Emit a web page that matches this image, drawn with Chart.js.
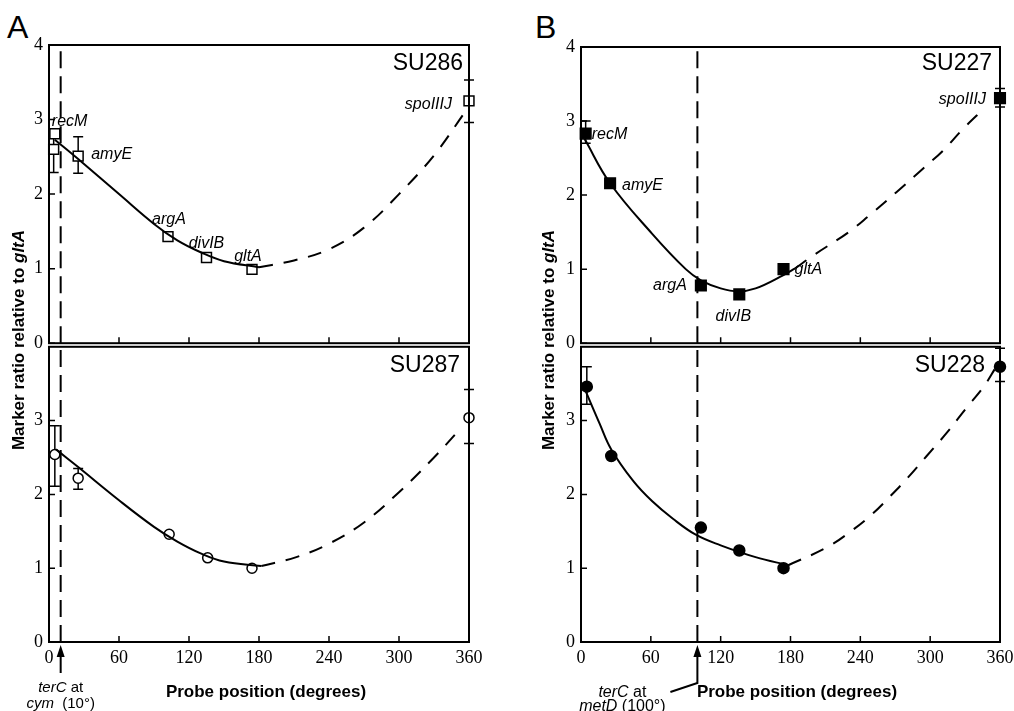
<!DOCTYPE html>
<html>
<head>
<meta charset="utf-8">
<title>Marker ratio vs probe position</title>
<script src="https://cdn.jsdelivr.net/npm/chart.js@4.4.1/dist/chart.umd.min.js"></script>
<style>
  body { margin: 0; background: #fff; }
  #fig { position: relative; width: 1014px; height: 711px; overflow: hidden; font-family: "Liberation Sans", Arial, sans-serif; color: #000; }
  #fig canvas { position: absolute; }
  .letter { position: absolute; font-size: 32px; line-height: 32px; }
  .ytitle { position: absolute; width: 320px; height: 20px; line-height: 20px; text-align: center; font-weight: bold; font-size: 17px; transform: rotate(-90deg); }
  .xtitle { position: absolute; width: 300px; height: 20px; line-height: 20px; text-align: center; font-weight: bold; font-size: 17px; }
</style>
</head>
<body>
<div id="fig">
  <div class="letter" style="left:7px;top:11px">A</div>
  <div class="letter" style="left:535px;top:11px">B</div>
  <canvas id="a1" width="490" height="360" style="left:0;top:0"></canvas>
  <canvas id="a2" width="490" height="381" style="left:0;top:330px"></canvas>
  <canvas id="b1" width="500" height="360" style="left:520px;top:0"></canvas>
  <canvas id="b2" width="500" height="381" style="left:520px;top:330px"></canvas>
  <div class="ytitle" style="left:-141px;top:330px">Marker ratio relative to <i>gltA</i></div>
  <div class="ytitle" style="left:389px;top:330px">Marker ratio relative to <i>gltA</i></div>
  <div class="xtitle" style="left:116px;top:682px">Probe position (degrees)</div>
  <div class="xtitle" style="left:647px;top:682px">Probe position (degrees)</div>
</div>
<script>
// tick labels
const xTicks = [0, 60, 120, 180, 240, 300, 360];
const yTicksUpper = [0, 1, 2, 3, 4];
const yTicksLower = [0, 1, 2, 3];

// A, SU286 (open squares)
const su286Pos = [4, 5, 25, 102, 135, 174, 360];
const su286Ratio = [2.60, 2.81, 2.51, 1.43, 1.15, 0.99, 3.25];
const su286Low = [2.29, null, 2.28, null, null, null, 2.96];
const su286High = [2.86, null, 2.77, null, null, null, 3.53];
const su286Genes = ['', 'recM', 'amyE', 'argA', 'divIB', 'gltA', 'spoIIIJ'];
const su286FitX = [5, 25, 60, 90, 110, 130, 150, 180];
const su286FitY = [2.73, 2.47, 2.00, 1.60, 1.38, 1.22, 1.10, 1.02];
const su286ExtX = [180, 210, 240, 270, 300, 330, 357];
const su286ExtY = [1.02, 1.11, 1.26, 1.55, 2.00, 2.52, 3.11];

// A, SU287 (open circles)
const su287Pos = [5, 25, 103, 136, 174, 360];
const su287Ratio = [2.54, 2.22, 1.46, 1.14, 1.00, 3.04];
const su287Low = [2.11, 2.07, null, null, null, 2.69];
const su287High = [2.93, 2.35, null, null, null, 3.42];
const su287FitX = [6, 25, 60, 90, 110, 130, 150, 182];
const su287FitY = [2.61, 2.37, 1.92, 1.56, 1.36, 1.20, 1.09, 1.03];
const su287ExtX = [182, 212, 241, 270, 300, 330, 352];
const su287ExtY = [1.03, 1.15, 1.34, 1.62, 2.03, 2.50, 2.88];

// B, SU227 (filled squares)
const su227Pos = [4, 25, 103, 136, 174, 360];
const su227Ratio = [2.83, 2.16, 0.78, 0.66, 1.00, 3.31];
const su227Low = [2.70, null, null, null, null, 3.19];
const su227High = [3.00, null, null, null, null, 3.44];
const su227Genes = ['recM', 'amyE', 'argA', 'divIB', 'gltA', 'spoIIIJ'];
const su227FitX = [3, 25, 61, 90, 103, 120, 135, 150, 174, 184];
const su227FitY = [2.76, 2.16, 1.48, 1.00, 0.85, 0.74, 0.70, 0.74, 0.92, 1.01];
const su227ExtX = [184, 200, 230, 248, 271, 294, 311, 328, 347];
const su227ExtY = [1.01, 1.19, 1.50, 1.73, 2.04, 2.36, 2.60, 2.89, 3.18];

// B, SU228 (filled circles)
const su228Pos = [5, 26, 103, 136, 174, 360];
const su228Ratio = [3.46, 2.52, 1.55, 1.24, 1.00, 3.73];
const su228Low = [3.22, null, null, null, null, 3.53];
const su228High = [3.73, null, null, null, null, 3.98];
const su228FitX = [4, 16, 26, 45, 61, 79, 99, 120, 150, 178];
const su228FitY = [3.40, 2.96, 2.61, 2.18, 1.91, 1.67, 1.45, 1.31, 1.15, 1.04];
const su228ExtX = [178, 211, 231, 250, 266, 281, 297, 314, 330, 346, 356];
const su228ExtY = [1.04, 1.28, 1.49, 1.73, 1.98, 2.23, 2.52, 2.83, 3.15, 3.46, 3.71];

// terC positions
const terCA = 10;
const terCB = 100;

// label placement (pixel offsets from the point)
const offsetsA = { recM: [-3, -12, 'left'], amyE: [13, -2, 'left'], argA: [1, -17, 'center'], divIB: [0, -14, 'center'], gltA: [-4, -13, 'center'], spoIIIJ: [-17, 4, 'right'] };
const offsetsB = { recM: [6, 1, 'left'], amyE: [12, 2, 'left'], argA: [-14, 0, 'right'], divIB: [-6, 22, 'center'], gltA: [11, 0, 'left'], spoIIIJ: [-14, 1, 'right'] };

const zip = (xs, ys) => xs.map((x, i) => ({ x, y: ys[i] }));

function richText(ctx, parts, cx, cy, size) {
    const fonts = parts.map(p => (p[1] ? 'italic ' : '') + size + 'px "Liberation Sans"');
    let w = 0;
    parts.forEach((p, i) => { ctx.font = fonts[i]; w += ctx.measureText(p[0]).width; });
    let x = cx - w / 2;
    ctx.textAlign = 'left';
    ctx.textBaseline = 'middle';
    parts.forEach((p, i) => { ctx.font = fonts[i]; ctx.fillText(p[0], x, cy); x += ctx.measureText(p[0]).width; });
}

function figurePlugin(s) {
    return {
        id: 'figure',
        beforeDatasetsDraw(chart) {
            // error bars
            const { ctx, scales: { x, y } } = chart;
            ctx.save();
            ctx.strokeStyle = '#000';
            ctx.lineWidth = 1.5;
            ctx.beginPath();
            s.low.forEach((lo, i) => {
                if (lo == null) return;
                const px = x.getPixelForValue(s.pos[i]);
                const y1 = y.getPixelForValue(lo), y2 = y.getPixelForValue(s.high[i]);
                ctx.moveTo(px, y1); ctx.lineTo(px, y2);
                ctx.moveTo(px - 5, y1); ctx.lineTo(px + 5, y1);
                ctx.moveTo(px - 5, y2); ctx.lineTo(px + 5, y2);
            });
            ctx.stroke();
            ctx.restore();
        },
        afterDraw(chart) {
            const { ctx, chartArea: a, scales: { x, y } } = chart;
            ctx.save();
            ctx.strokeStyle = '#000';
            ctx.fillStyle = '#000';
            // box and inward ticks
            ctx.lineWidth = 2;
            ctx.strokeRect(a.left, a.top, a.right - a.left, a.bottom - a.top);
            ctx.lineWidth = 1.5;
            ctx.beginPath();
            x.ticks.forEach(t => { const px = x.getPixelForValue(t.value); ctx.moveTo(px, a.bottom); ctx.lineTo(px, a.bottom - 6); });
            y.ticks.forEach(t => { const py = y.getPixelForValue(t.value); ctx.moveTo(a.left, py); ctx.lineTo(a.left + 6, py); });
            ctx.stroke();

            // gene names
            if (s.genes) {
                ctx.font = 'italic 16px "Liberation Sans"';
                ctx.textBaseline = 'middle';
                s.genes.forEach((g, i) => {
                    if (!g) return;
                    const o = s.offsets[g];
                    ctx.textAlign = o[2];
                    ctx.fillText(g, x.getPixelForValue(s.pos[i]) + o[0], y.getPixelForValue(s.ratio[i]) + o[1]);
                });
            }

            // strain name
            ctx.font = '23px "Liberation Sans"';
            ctx.textAlign = 'right';
            ctx.textBaseline = 'alphabetic';
            ctx.fillText(s.strain, a.right - s.strainPos[0], a.top + s.strainPos[1]);

            // terC arrow under the axis
            if (s.note) {
                const n = s.note;
                const px = x.getPixelForValue(s.terC);
                const b = a.bottom;
                ctx.lineWidth = 2;
                ctx.beginPath();
                ctx.moveTo(px, b + 10); ctx.lineTo(px, b + n.shaft);
                if (n.leader) ctx.lineTo(px + n.leader[0], b + n.leader[1]);
                ctx.stroke();
                ctx.beginPath();
                ctx.moveTo(px, b + 3); ctx.lineTo(px - 4, b + 15); ctx.lineTo(px + 4, b + 15);
                ctx.closePath();
                ctx.fill();
                n.lines.forEach((parts, i) => richText(ctx, parts, px + n.dx, b + n.dy[i], n.size));
            }
            ctx.restore();
        }
    };
}

function panel(id, s) {
    const box = s.box;
    return new Chart(document.getElementById(id), {
        type: 'scatter',
        data: {
            datasets: [
                { type: 'line', data: zip(s.fitX, s.fitY), borderColor: '#000', borderWidth: 2, pointRadius: 0, tension: 0.4, fill: false, clip: false },
                { type: 'line', data: zip(s.extX, s.extY), borderColor: '#000', borderWidth: 2, borderDash: [14, 11], pointRadius: 0, tension: 0.4, fill: false, clip: false },
                { type: 'line', data: [{ x: s.terC, y: 0 }, { x: s.terC, y: 4 }], borderColor: '#000', borderWidth: 2, borderDash: [17, 8], pointRadius: 0, fill: false },
                { data: zip(s.pos, s.ratio), pointStyle: s.marker, pointRadius: s.radius, backgroundColor: s.filled ? '#000' : '#fff', borderColor: '#000', borderWidth: 1.5, clip: false }
            ]
        },
        options: {
            responsive: false,
            animation: false,
            devicePixelRatio: 1,
            layout: { padding: { left: 0, top: box.top, right: box.right, bottom: 0 } },
            plugins: { legend: { display: false }, tooltip: { enabled: false } },
            scales: {
                x: {
                    type: 'linear', min: 0, max: 360,
                    grid: { display: false, drawTicks: false }, border: { display: false },
                    afterBuildTicks: sc => { sc.ticks = xTicks.map(v => ({ value: v })); },
                    afterFit: sc => { sc.height = box.xh; },
                    ticks: { display: s.xLabels, padding: 5, maxRotation: 0, autoSkip: false, color: '#000', font: { family: 'Liberation Serif', size: 18 } }
                },
                y: {
                    min: 0, max: 4,
                    grid: { display: false, drawTicks: false }, border: { display: false },
                    afterBuildTicks: sc => { sc.ticks = s.yTicks.map(v => ({ value: v })); },
                    afterFit: sc => { sc.width = box.yw; },
                    ticks: { padding: 6, color: '#000', font: { family: 'Liberation Serif', size: 18 } }
                }
            }
        },
        plugins: [figurePlugin(s)]
    });
}

panel('a1', {
    pos: su286Pos, ratio: su286Ratio, low: su286Low, high: su286High, genes: su286Genes, offsets: offsetsA,
    fitX: su286FitX, fitY: su286FitY, extX: su286ExtX, extY: su286ExtY, terC: terCA,
    marker: 'rect', radius: 7, filled: false, strain: 'SU286', strainPos: [6, 25],
    yTicks: yTicksUpper, xLabels: false, box: { yw: 49, top: 45, right: 21, xh: 15 }
});
panel('a2', {
    pos: su287Pos, ratio: su287Ratio, low: su287Low, high: su287High,
    fitX: su287FitX, fitY: su287FitY, extX: su287ExtX, extY: su287ExtY, terC: terCA,
    marker: 'circle', radius: 5, filled: false, strain: 'SU287', strainPos: [9, 25],
    yTicks: yTicksLower, xLabels: true, box: { yw: 49, top: 15, right: 21, xh: 69 },
    note: { shaft: 31, dx: 0, dy: [46, 62], size: 15,
            lines: [[['terC', true], [' at', false]], [['cym', true], ['  (10°)', false]]] }
});
panel('b1', {
    pos: su227Pos, ratio: su227Ratio, low: su227Low, high: su227High, genes: su227Genes, offsets: offsetsB,
    fitX: su227FitX, fitY: su227FitY, extX: su227ExtX, extY: su227ExtY, terC: terCB,
    marker: 'rect', radius: 7.5, filled: true, strain: 'SU227', strainPos: [8, 23],
    yTicks: yTicksUpper, xLabels: false, box: { yw: 61, top: 47, right: 20, xh: 15 }
});
panel('b2', {
    pos: su228Pos, ratio: su228Ratio, low: su228Low, high: su228High,
    fitX: su228FitX, fitY: su228FitY, extX: su228ExtX, extY: su228ExtY, terC: terCB,
    marker: 'circle', radius: 5.5, filled: true, strain: 'SU228', strainPos: [15, 25],
    yTicks: yTicksLower, xLabels: true, box: { yw: 61, top: 15, right: 20, xh: 69 },
    note: { shaft: 41, leader: [-27, 50], dx: -75, dy: [51, 65], size: 16,
            lines: [[['terC', true], [' at', false]], [['metD', true], [' (100°)', false]]] }
});
</script>
</body>
</html>
